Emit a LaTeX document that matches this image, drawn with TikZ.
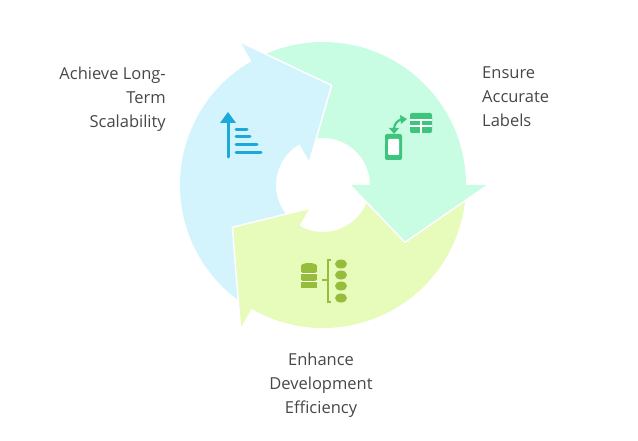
\documentclass[tikz,border=0pt]{standalone}
\usepackage{fontspec}
\setmainfont{Open Sans}
\usetikzlibrary{calc}
\begin{document}
\begin{tikzpicture}[x=1pt,y=1pt,
  lbl/.style={text=black!72,font=\fontsize{16.5}{24}\selectfont,inner sep=0pt}]
\useasboundingbox (0,0) rectangle (638,440);
\definecolor{cg}{HTML}{C8FCE3}\definecolor{cy}{HTML}{E7FBBA}\definecolor{cb}{HTML}{D3F3FD}
\definecolor{ig}{HTML}{3DC57E}\definecolor{iy}{HTML}{95BC3A}\definecolor{ib}{HTML}{1CA9DA}
\coordinate (C) at (323,255);
\def\Ro{143}\def\Ri{47}
\foreach \a/\c in {0/cg,240/cy,120/cb}{
  \fill[\c] ($(C)+(\a:\Ro)$) arc[start angle=\a,end angle=\a+120,radius=\Ro]
     -- ($(C)+(\a+120:\Ri)$) arc[start angle=\a+120,end angle=\a,radius=\Ri] -- cycle;
}
\foreach \a/\c in {0/cg,240/cy,120/cb}{
  \coordinate (hi) at ($(C)+(\a:27)$);
  \coordinate (ho) at ($(C)+(\a:165)$);
  \coordinate (ht) at ($(C)+(\a-35:100)$);
  \fill[\c] (hi) -- (ho) -- (ht) -- cycle;
  \draw[white,line width=1.5pt,line join=round] (ho) -- (ht) -- (hi);
}
% labels
\node[lbl,align=right,anchor=north east] (t1) at (166,373) {Achieve Long-\\Term\\Scalability};
\node[lbl,align=left,anchor=north west] (t2) at (482,373) {Ensure\\Accurate\\Labels};
\node[lbl,align=center,anchor=north] (t3) at (321,87) {Enhance\\Development\\Efficiency};
% blue icon
\begin{scope}[ib,line cap=round,line width=3pt]
\draw (228,283) -- (228,318);
\fill (220,317) -- (236,317) -- (228,328) -- cycle;
\draw (236,310) -- (247,310);
\draw (236,303) -- (250,303);
\draw (236,295) -- (257,295);
\draw (236,287) -- (261,287);
\end{scope}
% green icon
\begin{scope}[ig]
\fill[rounded corners=2pt] (385,280) rectangle (402,306);
\fill[white,rounded corners=1pt] (388,285) rectangle (399,301);
\fill[rounded corners=2pt] (410,307) rectangle (432,327);
\draw[white,line width=1.2pt] (410,320) -- (432,320) (410,314) -- (432,314) (421,320) -- (421,307);
\draw[line width=2.2pt] (394,311) to[bend left=40] (403,321);
\fill (400,325) -- (407,321) -- (401,316) -- cycle;
\fill (389,312) -- (399,312) -- (394,306) -- cycle;
\end{scope}
% yellow icon
\begin{scope}[iy]
\foreach \y in {168,160,152}{\fill (301,\y) rectangle (317,\y+6); \fill (309,\y+6) ellipse (8 and 3);}
\fill[white] (301,158) rectangle (317,159.3);\fill[white] (301,166) rectangle (317,167.3);
\draw[line width=2.6pt] (331,180) -- (328,180) -- (328,138) -- (331,138);
\draw[line width=2.6pt] (322,160) -- (328,160);
\foreach \y in {176,165,154,142}{\fill (341,\y) ellipse (6 and 4.5);}
\end{scope}
\end{tikzpicture}
\end{document}
